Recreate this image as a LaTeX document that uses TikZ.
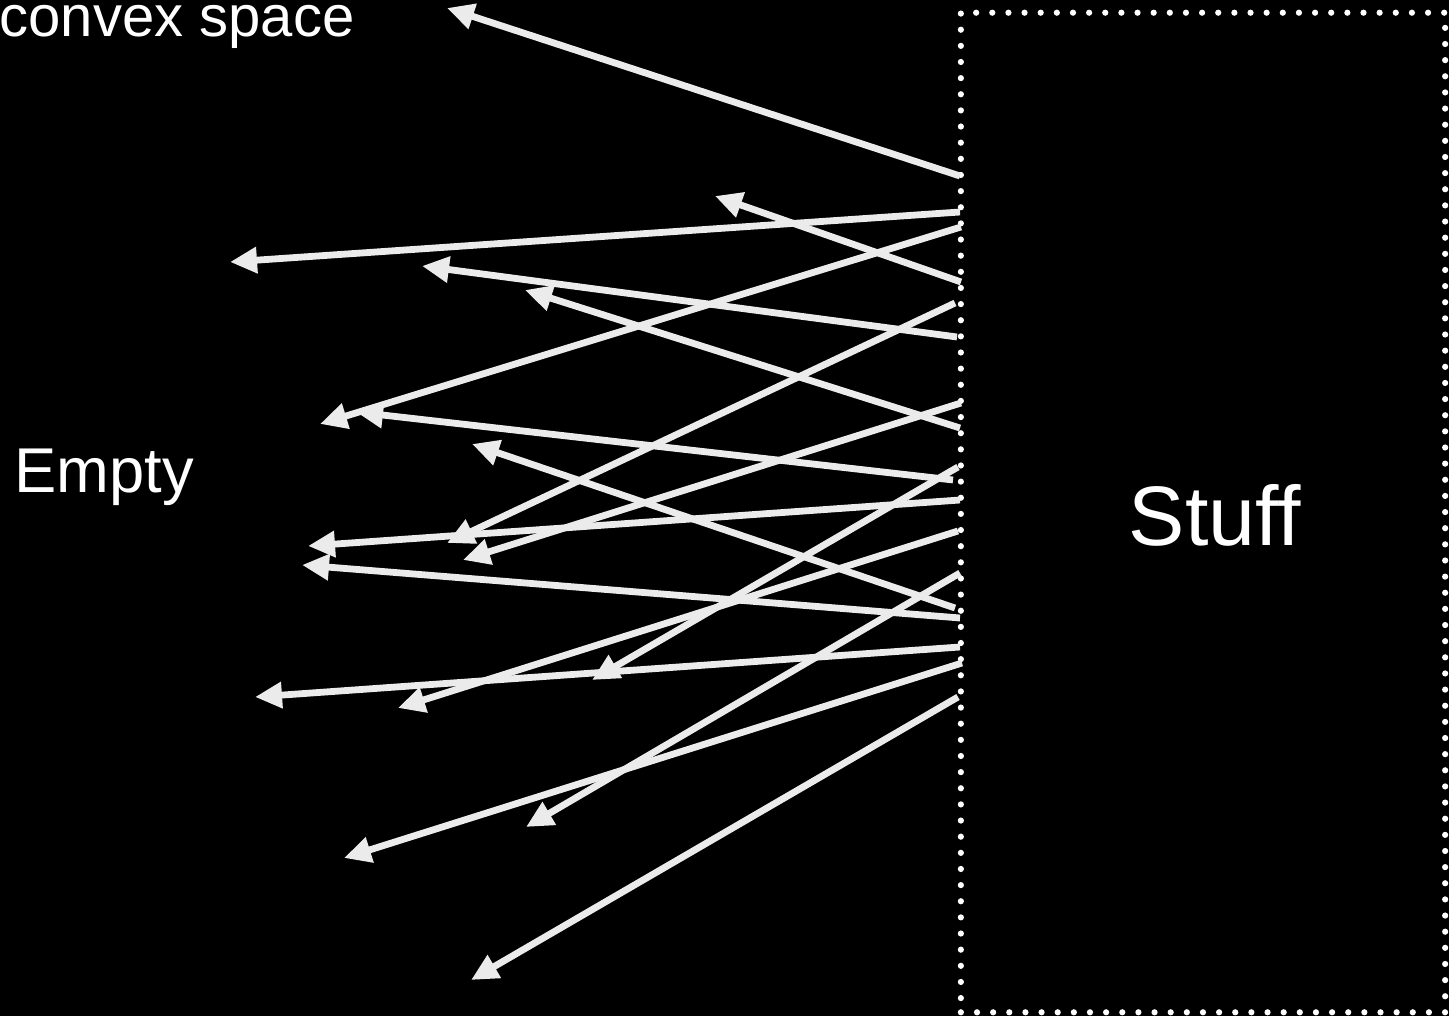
\documentclass[tikz,border=0pt]{standalone}
\usepackage{fontspec}
\setmainfont{Liberation Sans}
\usetikzlibrary{arrows.meta}
\definecolor{ray}{HTML}{EBEBEB}
\definecolor{dots}{HTML}{FFFFFF}

\tikzset{
  rayline/.style={draw=ray,line width=0.068cm,-{Triangle[length=0.27cm,width=0.25cm]}},
  stuffbox/.style={draw=dots,line width=0.062cm,line cap=round,dash pattern=on 0pt off 0.1613cm,
    minimum width=4.84cm,minimum height=9.99cm,inner sep=0pt},
  label/.style={text=white,anchor=base west,inner sep=0pt}
}

\begin{document}
\begin{tikzpicture}[x=0.01cm,y=-0.01cm]
  \path[fill=black,use as bounding box] (0,0) rectangle (1449,1016);

  % region boundary and labels
  \node[stuffbox] (box) at (1203,512.5) {};
  \node[label,font=\fontsize{24}{28}\selectfont] (stuff) at (1128,545) {Stuff};
  \node[label,font=\fontsize{18}{21}\selectfont] (empty) at (14,493) {Empty};
  \node[label,font=\fontsize{16.5}{20}\selectfont] (convex) at (-1,37) {convex space};

  % rays leaving the boundary
  \coordinate (s1) at (960,176);  \coordinate (e1) at (447,8);
  \coordinate (s2) at (960,212);  \coordinate (e2) at (230,262);
  \coordinate (s3) at (961,227);  \coordinate (e3) at (320,424);
  \coordinate (s4) at (961,282);  \coordinate (e4) at (715,196);
  \coordinate (s5) at (955,303);  \coordinate (e5) at (447,543);
  \coordinate (s6) at (957,337);  \coordinate (e6) at (422,266);
  \coordinate (s7) at (961,403);  \coordinate (e7) at (463,560);
  \coordinate (s8) at (960,428);  \coordinate (e8) at (525,290);
  \coordinate (s9) at (958,467);  \coordinate (e9) at (592,680);
  \coordinate (s10) at (953,480); \coordinate (e10) at (356,412);
  \coordinate (s11) at (960,500); \coordinate (e11) at (308,546);
  \coordinate (s12) at (958,531); \coordinate (e12) at (398,708);
  \coordinate (s13) at (960,573); \coordinate (e13) at (526,827);
  \coordinate (s14) at (955,608); \coordinate (e14) at (472,444);
  \coordinate (s15) at (960,618); \coordinate (e15) at (302,565);
  \coordinate (s16) at (960,647); \coordinate (e16) at (255,697);
  \coordinate (s17) at (962,663); \coordinate (e17) at (344,858);
  \coordinate (s18) at (958,697); \coordinate (e18) at (471,980);

  \draw[rayline] (s1) -- (e1);
  \draw[rayline] (s2) -- (e2);
  \draw[rayline] (s3) -- (e3);
  \draw[rayline] (s4) -- (e4);
  \draw[rayline] (s5) -- (e5);
  \draw[rayline] (s6) -- (e6);
  \draw[rayline] (s7) -- (e7);
  \draw[rayline] (s8) -- (e8);
  \draw[rayline] (s9) -- (e9);
  \draw[rayline] (s10) -- (e10);
  \draw[rayline] (s11) -- (e11);
  \draw[rayline] (s12) -- (e12);
  \draw[rayline] (s13) -- (e13);
  \draw[rayline] (s14) -- (e14);
  \draw[rayline] (s15) -- (e15);
  \draw[rayline] (s16) -- (e16);
  \draw[rayline] (s17) -- (e17);
  \draw[rayline] (s18) -- (e18);
\end{tikzpicture}
\end{document}
